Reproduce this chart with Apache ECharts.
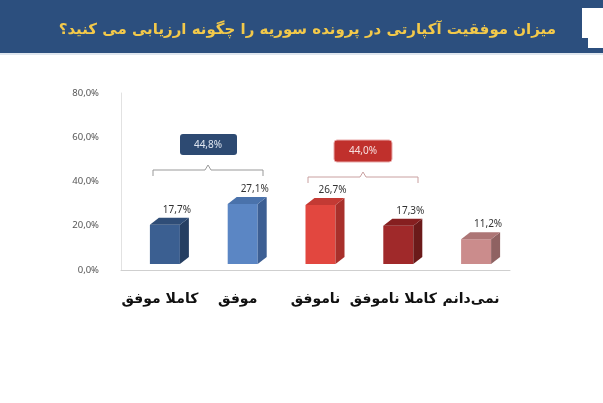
<!DOCTYPE html>
<html><head><meta charset="utf-8">
<script src="https://cdn.jsdelivr.net/npm/echarts@6/dist/echarts.min.js"></script>
<style>html,body{margin:0;padding:0;background:#fff}#c{width:603px;height:403px}</style>
</head><body><div id="c"></div>
<script>
const categories = ['کاملا موفق', 'موفق', 'ناموفق', 'کاملا ناموفق', 'نمی‌دانم'];
const values = [17.7, 27.1, 26.7, 17.3, 11.2];
const colors = ['#3b5f91', '#5b86c4', '#e2473f', '#a0292a', '#cb8c8c'];
const sideColors = ['#263f62', '#3d5f93', '#a8302b', '#6b1a1a', '#8f6262'];
const topColors = ['#2f4d77', '#4a72ab', '#c33a34', '#861f20', '#ad7676'];
const yTicks = [0, 20, 40, 60, 80];

const chart = echarts.init(document.getElementById('c'));
const fmt = v => v.toFixed(1).replace('.', ',') + '%';

function renderBar(params, api) {
  const i = api.value(0), v = api.value(1);
  const base = api.coord([i, 0]);
  const top = api.coord([i, v]);
  const w = 30, d = 9, h = 7, lift = 6;
  const x0 = base[0] - 10, y0 = base[1] - lift, y1 = top[1] - lift;
  return {
    type: 'group',
    children: [
      { type: 'rect', shape: { x: x0, y: y1, width: w, height: y0 - y1 }, style: { fill: colors[i] } },
      { type: 'polygon', shape: { points: [[x0 + w, y1], [x0 + w + d, y1 - h], [x0 + w + d, y0 - h], [x0 + w, y0]] }, style: { fill: sideColors[i] } },
      { type: 'polygon', shape: { points: [[x0, y1], [x0 + d, y1 - h], [x0 + w + d, y1 - h], [x0 + w, y1]] }, style: { fill: topColors[i] } },
      { type: 'text', style: { text: fmt(v), x: x0 + w / 2 + 12, y: y1 - h - 3, align: 'center', verticalAlign: 'bottom', fill: '#333', font: '10px "Noto Sans"' } }
    ]
  };
}

function bracket(x1, x2, y, color) {
  const m = (x1 + x2) / 2;
  return { type: 'polyline', shape: { points: [[x1, y + 6], [x1, y], [m - 3, y], [m, y - 5], [m + 3, y], [x2, y], [x2, y + 6]] }, style: { stroke: color, lineWidth: 1, fill: null } };
}

chart.setOption({
  animation: false,
  grid: { left: 121, right: 93, top: 93, bottom: 133 },
  xAxis: {
    type: 'category', data: categories,
    axisLine: { lineStyle: { color: '#cfcfcf' } }, axisTick: { show: false },
    axisLabel: { interval: 0, color: '#111', fontSize: 14, fontWeight: 'bold', fontFamily: 'DejaVu Sans', margin: 22 }
  },
  yAxis: {
    type: 'value', min: 0, max: 80, interval: 20,
    axisLine: { show: true, lineStyle: { color: '#e2e2e2' } }, splitLine: { show: false },
    axisLabel: { color: '#555', fontSize: 9.5, fontFamily: 'Noto Sans', formatter: v => fmt(v), margin: 22 }
  },
  series: [{ type: 'custom', renderItem: renderBar, data: values.map((v, i) => [i, v]) }],
  graphic: [
    { type: 'rect', shape: { x: 0, y: 0, width: 603, height: 53 }, style: { fill: '#2c4f7e' } },
    { type: 'rect', shape: { x: 0, y: 53, width: 603, height: 2 }, style: { fill: '#dfe6ee' } },
    { type: 'rect', shape: { x: 582, y: 8, width: 21, height: 40 }, style: { fill: '#fff' } },
    { type: 'rect', shape: { x: 582, y: 38, width: 6, height: 10 }, style: { fill: '#2c4f7e' } },
    { type: 'text', style: { text: 'میزان موفقیت آکپارتی در پرونده سوریه را چگونه ارزیابی می کنید؟', x: 556, y: 30, align: 'right', verticalAlign: 'middle', fill: '#f3c94a', font: 'bold 15px "DejaVu Sans"' } },
    bracket(153, 263, 170, '#999'),
    { type: 'rect', shape: { x: 180, y: 134, width: 57, height: 21, r: 3 }, style: { fill: '#2d4a72' } },
    { type: 'text', style: { text: '44,8%', x: 208, y: 145, align: 'center', verticalAlign: 'middle', fill: '#dfe6f0', font: '10px "Noto Sans"' } },
    bracket(308, 418, 177, '#c9a0a0'),
    { type: 'rect', shape: { x: 334, y: 140, width: 58, height: 22, r: 3 }, style: { fill: '#c0302c', stroke: '#e8a8a8', lineWidth: 1 } },
    { type: 'text', style: { text: '44,0%', x: 363, y: 151, align: 'center', verticalAlign: 'middle', fill: '#f6dede', font: '10px "Noto Sans"' } }
  ]
});
</script></body></html>
